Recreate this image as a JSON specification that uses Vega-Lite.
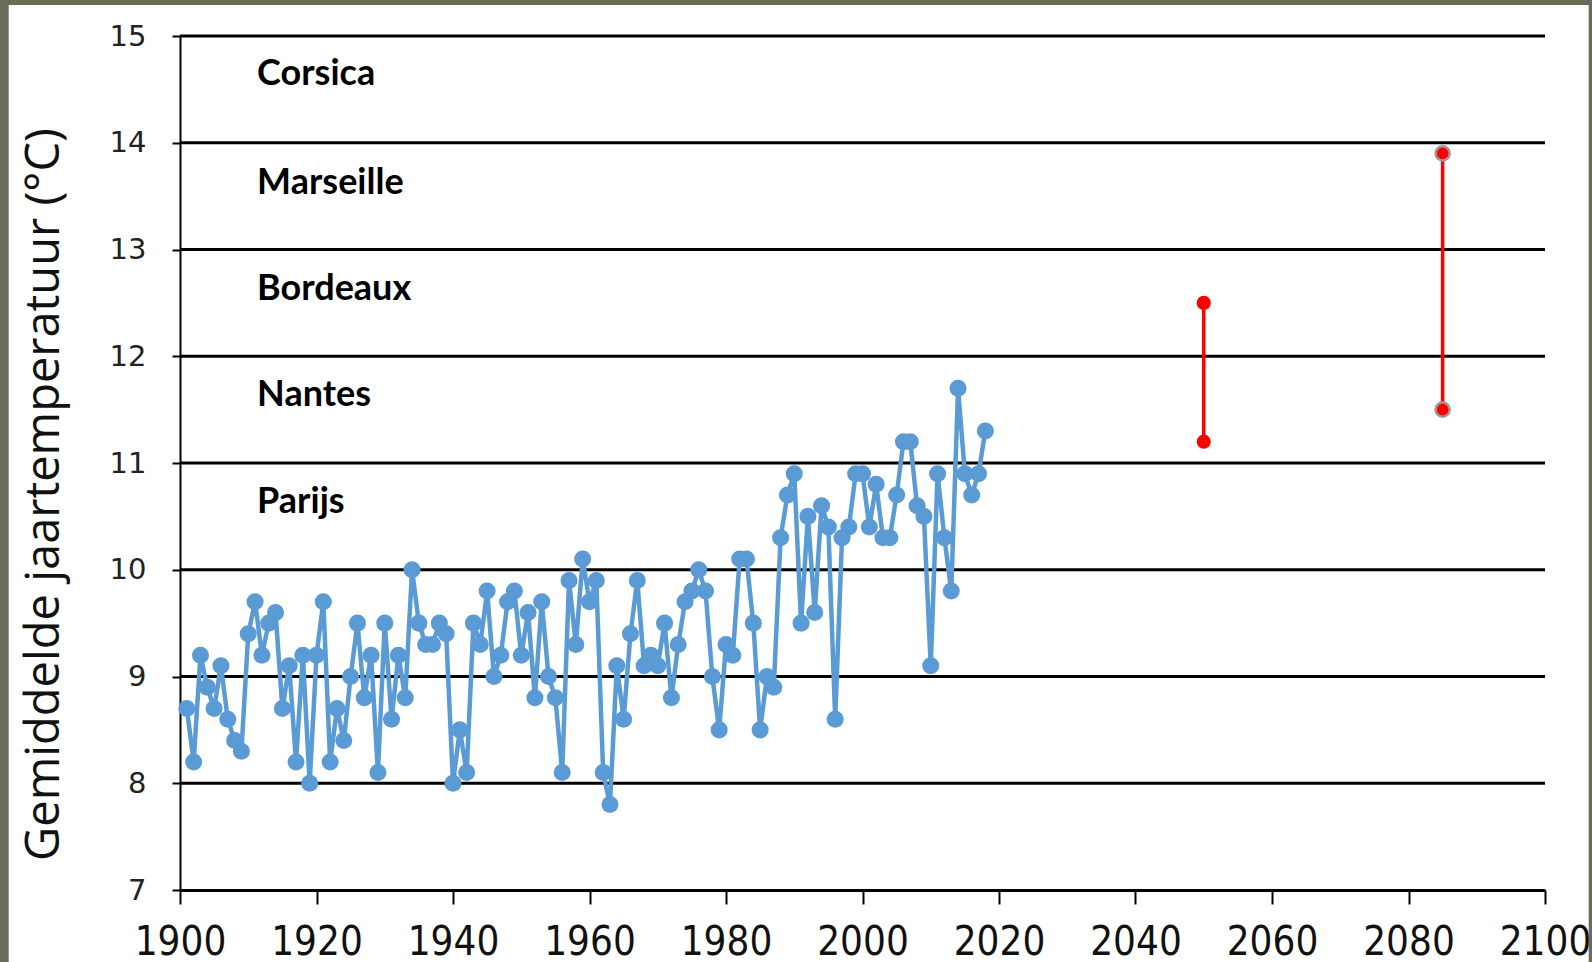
{
  "$schema": "https://vega.github.io/schema/vega-lite/v6.json",
  "width": 1365,
  "height": 854,
  "autosize": {"type": "none"},
  "padding": {"left": 180, "top": 36, "right": 47, "bottom": 72},
  "background": "#ffffff",
  "config": {
    "view": {"stroke": null},
    "axisX": {
      "zindex": 1, "grid": false,
      "labelFont": "Liberation Sans Narrow, DejaVu Sans Condensed, Lato, sans-serif",
      "labelFontSize": 40, "labelColor": "#111111", "labelPadding": 18,
      "labelFlush": false, "labelOverlap": false,
      "domainColor": "#000000", "domainWidth": 3,
      "tickColor": "#000000", "tickWidth": 2, "tickSize": 14
    },
    "axisY": {
      "zindex": 1, "grid": false,
      "labelFont": "DejaVu Sans, Verdana, sans-serif", "labelFontSize": 29, "labelColor": "#222222",
      "labelPadding": 26, "labelFlush": false, "labelOverlap": false,
      "domainColor": "#000000", "domainWidth": 2,
      "tickColor": "#000000", "tickWidth": 2, "tickSize": 8,
      "titleFont": "Open Sans", "titleFontSize": 47, "titleFontWeight": "normal",
      "titleColor": "#111111", "titleAngle": -90,
      "titleX": -136, "titleY": 458, "titleAlign": "center", "titleBaseline": "middle"
    }
  },
  "datasets": {
    "border": [
      {"x0": 1850, "x1": 1874.9, "y0": 5, "y1": 16},
      {"x0": 1850, "x1": 2130, "y0": 15.29, "y1": 16},
      {"x0": 2106.4, "x1": 2130, "y0": 5, "y1": 16}
    ],
    "grid": [{"v": 8}, {"v": 9}, {"v": 10}, {"v": 11}, {"v": 12}, {"v": 13}, {"v": 14}, {"v": 15}],
    "obs": [
      {"year": 1901, "temp": 8.7}, {"year": 1902, "temp": 8.2}, {"year": 1903, "temp": 9.2}, {"year": 1904, "temp": 8.9},
      {"year": 1905, "temp": 8.7}, {"year": 1906, "temp": 9.1}, {"year": 1907, "temp": 8.6}, {"year": 1908, "temp": 8.4},
      {"year": 1909, "temp": 8.3}, {"year": 1910, "temp": 9.4}, {"year": 1911, "temp": 9.7}, {"year": 1912, "temp": 9.2},
      {"year": 1913, "temp": 9.5}, {"year": 1914, "temp": 9.6}, {"year": 1915, "temp": 8.7}, {"year": 1916, "temp": 9.1},
      {"year": 1917, "temp": 8.2}, {"year": 1918, "temp": 9.2}, {"year": 1919, "temp": 8.0}, {"year": 1920, "temp": 9.2},
      {"year": 1921, "temp": 9.7}, {"year": 1922, "temp": 8.2}, {"year": 1923, "temp": 8.7}, {"year": 1924, "temp": 8.4},
      {"year": 1925, "temp": 9.0}, {"year": 1926, "temp": 9.5}, {"year": 1927, "temp": 8.8}, {"year": 1928, "temp": 9.2},
      {"year": 1929, "temp": 8.1}, {"year": 1930, "temp": 9.5}, {"year": 1931, "temp": 8.6}, {"year": 1932, "temp": 9.2},
      {"year": 1933, "temp": 8.8}, {"year": 1934, "temp": 10.0}, {"year": 1935, "temp": 9.5}, {"year": 1936, "temp": 9.3},
      {"year": 1937, "temp": 9.3}, {"year": 1938, "temp": 9.5}, {"year": 1939, "temp": 9.4}, {"year": 1940, "temp": 8.0},
      {"year": 1941, "temp": 8.5}, {"year": 1942, "temp": 8.1}, {"year": 1943, "temp": 9.5}, {"year": 1944, "temp": 9.3},
      {"year": 1945, "temp": 9.8}, {"year": 1946, "temp": 9.0}, {"year": 1947, "temp": 9.2}, {"year": 1948, "temp": 9.7},
      {"year": 1949, "temp": 9.8}, {"year": 1950, "temp": 9.2}, {"year": 1951, "temp": 9.6}, {"year": 1952, "temp": 8.8},
      {"year": 1953, "temp": 9.7}, {"year": 1954, "temp": 9.0}, {"year": 1955, "temp": 8.8}, {"year": 1956, "temp": 8.1},
      {"year": 1957, "temp": 9.9}, {"year": 1958, "temp": 9.3}, {"year": 1959, "temp": 10.1}, {"year": 1960, "temp": 9.7},
      {"year": 1961, "temp": 9.9}, {"year": 1962, "temp": 8.1}, {"year": 1963, "temp": 7.8}, {"year": 1964, "temp": 9.1},
      {"year": 1965, "temp": 8.6}, {"year": 1966, "temp": 9.4}, {"year": 1967, "temp": 9.9}, {"year": 1968, "temp": 9.1},
      {"year": 1969, "temp": 9.2}, {"year": 1970, "temp": 9.1}, {"year": 1971, "temp": 9.5}, {"year": 1972, "temp": 8.8},
      {"year": 1973, "temp": 9.3}, {"year": 1974, "temp": 9.7}, {"year": 1975, "temp": 9.8}, {"year": 1976, "temp": 10.0},
      {"year": 1977, "temp": 9.8}, {"year": 1978, "temp": 9.0}, {"year": 1979, "temp": 8.5}, {"year": 1980, "temp": 9.3},
      {"year": 1981, "temp": 9.2}, {"year": 1982, "temp": 10.1}, {"year": 1983, "temp": 10.1}, {"year": 1984, "temp": 9.5},
      {"year": 1985, "temp": 8.5}, {"year": 1986, "temp": 9.0}, {"year": 1987, "temp": 8.9}, {"year": 1988, "temp": 10.3},
      {"year": 1989, "temp": 10.7}, {"year": 1990, "temp": 10.9}, {"year": 1991, "temp": 9.5}, {"year": 1992, "temp": 10.5},
      {"year": 1993, "temp": 9.6}, {"year": 1994, "temp": 10.6}, {"year": 1995, "temp": 10.4}, {"year": 1996, "temp": 8.6},
      {"year": 1997, "temp": 10.3}, {"year": 1998, "temp": 10.4}, {"year": 1999, "temp": 10.9}, {"year": 2000, "temp": 10.9},
      {"year": 2001, "temp": 10.4}, {"year": 2002, "temp": 10.8}, {"year": 2003, "temp": 10.3}, {"year": 2004, "temp": 10.3},
      {"year": 2005, "temp": 10.7}, {"year": 2006, "temp": 11.2}, {"year": 2007, "temp": 11.2}, {"year": 2008, "temp": 10.6},
      {"year": 2009, "temp": 10.5}, {"year": 2010, "temp": 9.1}, {"year": 2011, "temp": 10.9}, {"year": 2012, "temp": 10.3},
      {"year": 2013, "temp": 9.8}, {"year": 2014, "temp": 11.7}, {"year": 2015, "temp": 10.9}, {"year": 2016, "temp": 10.7},
      {"year": 2017, "temp": 10.9}, {"year": 2018, "temp": 11.3}
    ],
    "proj": [{"year": 2050, "low": 11.2, "high": 12.5}, {"year": 2085, "low": 11.5, "high": 13.9}],
    "projPts": [
      {"year": 2050, "temp": 11.2}, {"year": 2050, "temp": 12.5},
      {"year": 2085, "temp": 11.5}, {"year": 2085, "temp": 13.9}
    ],
    "labels": [
      {"name": "Corsica", "year": 1911.3, "pos": 14.64},
      {"name": "Marseille", "year": 1911.3, "pos": 13.62},
      {"name": "Bordeaux", "year": 1911.3, "pos": 12.63},
      {"name": "Nantes", "year": 1911.3, "pos": 11.64},
      {"name": "Parijs", "year": 1911.3, "pos": 10.63}
    ]
  },
  "layer": [
    {
      "data": {"name": "border"},
      "mark": {"type": "rect", "fill": "#6b6b59", "clip": false},
      "encoding": {
        "x": {"field": "x0", "type": "quantitative",
          "scale": {"domain": [1900, 2100], "nice": false, "zero": false},
          "axis": {"title": null, "values": [1900, 1920, 1940, 1960, 1980, 2000, 2020, 2040, 2060, 2080, 2100], "format": "d"}},
        "x2": {"field": "x1"},
        "y": {"field": "y0", "type": "quantitative",
          "scale": {"domain": [7, 15], "nice": false, "zero": false},
          "axis": {"title": "Gemiddelde jaartemperatuur (°C)", "values": [7, 8, 9, 10, 11, 12, 13, 14, 15], "format": "d"}},
        "y2": {"field": "y1"}
      }
    },
    {
      "data": {"name": "grid"},
      "mark": {"type": "rule", "color": "#000000", "strokeWidth": 2.8},
      "encoding": {
        "y": {"field": "v", "type": "quantitative",
          "scale": {"domain": [7, 15], "nice": false, "zero": false},
          "axis": {"title": "Gemiddelde jaartemperatuur (°C)", "values": [7, 8, 9, 10, 11, 12, 13, 14, 15], "format": "d"}}
      }
    },
    {
      "data": {"name": "obs"},
      "mark": {
        "type": "line", "color": "#5b9bd5", "strokeWidth": 4.5,
        "point": {"filled": true, "size": 290, "color": "#5b9bd5", "opacity": 1}
      },
      "encoding": {
        "x": {"field": "year", "type": "quantitative",
          "scale": {"domain": [1900, 2100], "nice": false, "zero": false},
          "axis": {"title": null, "values": [1900, 1920, 1940, 1960, 1980, 2000, 2020, 2040, 2060, 2080, 2100], "format": "d"}},
        "y": {"field": "temp", "type": "quantitative",
          "scale": {"domain": [7, 15], "nice": false, "zero": false},
          "axis": {"title": "Gemiddelde jaartemperatuur (°C)", "values": [7, 8, 9, 10, 11, 12, 13, 14, 15], "format": "d"}}
      }
    },
    {
      "data": {"name": "proj"},
      "mark": {"type": "rule", "color": "#ff0000", "strokeWidth": 3.5},
      "encoding": {
        "x": {"field": "year", "type": "quantitative",
          "scale": {"domain": [1900, 2100], "nice": false, "zero": false},
          "axis": {"title": null, "values": [1900, 1920, 1940, 1960, 1980, 2000, 2020, 2040, 2060, 2080, 2100], "format": "d"}},
        "y": {"field": "low", "type": "quantitative",
          "scale": {"domain": [7, 15], "nice": false, "zero": false},
          "axis": {"title": "Gemiddelde jaartemperatuur (°C)", "values": [7, 8, 9, 10, 11, 12, 13, 14, 15], "format": "d"}},
        "y2": {"field": "high"}
      }
    },
    {
      "data": {"name": "projPts"},
      "mark": {"type": "circle", "fill": "#ff0000", "stroke": "#9a9a9a", "strokeWidth": 2.5, "size": 200, "opacity": 1},
      "encoding": {
        "x": {"field": "year", "type": "quantitative",
          "scale": {"domain": [1900, 2100], "nice": false, "zero": false},
          "axis": {"title": null, "values": [1900, 1920, 1940, 1960, 1980, 2000, 2020, 2040, 2060, 2080, 2100], "format": "d"}},
        "y": {"field": "temp", "type": "quantitative",
          "scale": {"domain": [7, 15], "nice": false, "zero": false},
          "axis": {"title": "Gemiddelde jaartemperatuur (°C)", "values": [7, 8, 9, 10, 11, 12, 13, 14, 15], "format": "d"}},
        "strokeOpacity": {"condition": {"test": "datum.year > 2070", "value": 1}, "value": 0}
      }
    },
    {
      "data": {"name": "labels"},
      "mark": {"type": "text", "font": "Lato", "fontWeight": "bold", "fontSize": 36, "align": "left", "baseline": "middle", "color": "#000000"},
      "encoding": {
        "x": {"field": "year", "type": "quantitative",
          "scale": {"domain": [1900, 2100], "nice": false, "zero": false},
          "axis": {"title": null, "values": [1900, 1920, 1940, 1960, 1980, 2000, 2020, 2040, 2060, 2080, 2100], "format": "d"}},
        "y": {"field": "pos", "type": "quantitative",
          "scale": {"domain": [7, 15], "nice": false, "zero": false},
          "axis": {"title": "Gemiddelde jaartemperatuur (°C)", "values": [7, 8, 9, 10, 11, 12, 13, 14, 15], "format": "d"}},
        "text": {"field": "name"}
      }
    }
  ]
}
